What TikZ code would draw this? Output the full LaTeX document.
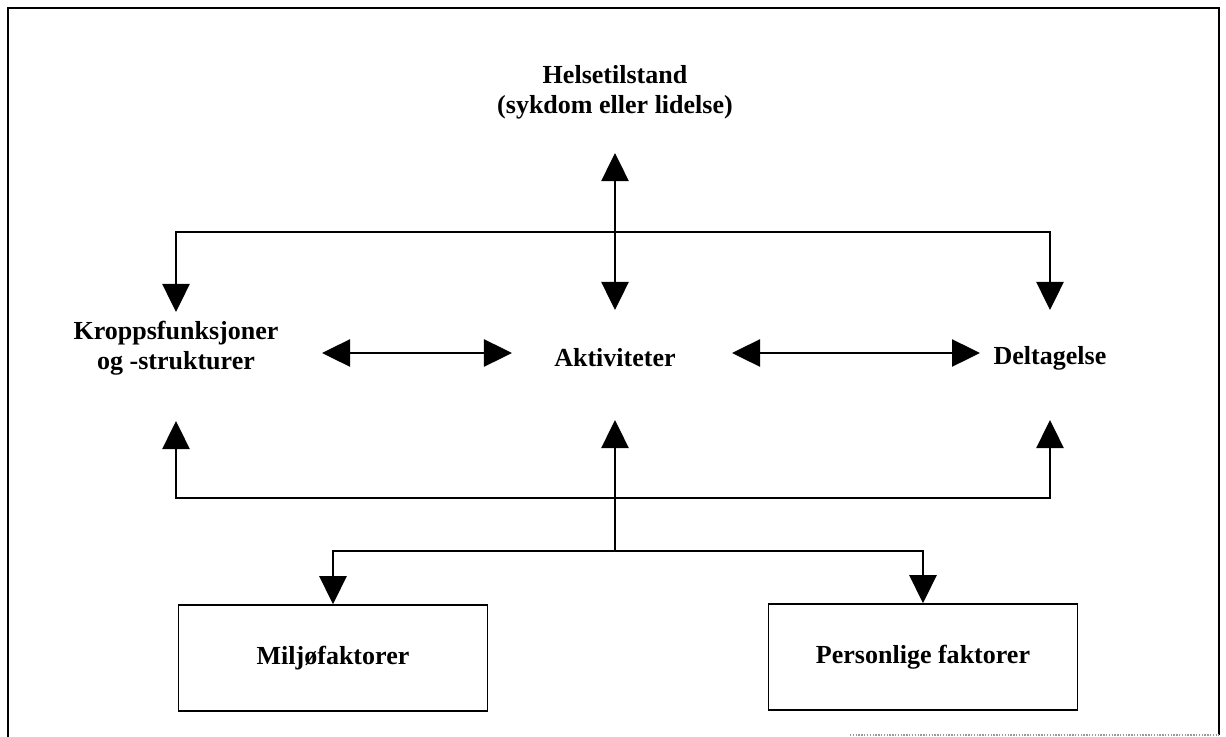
\documentclass[tikz,border=0pt]{standalone}
\usepackage{fontspec}
\setmainfont{Liberation Serif}
\usetikzlibrary{arrows.meta,calc}

\tikzset{
  lbl/.style={font=\bfseries\fontsize{18.5}{21.5}\selectfont,align=center,inner sep=1pt},
  factorbox/.style={draw,line width=1.1pt,minimum width=7.725cm,minimum height=2.65cm,
    font=\bfseries\fontsize{18.5}{21.5}\selectfont},
  link/.style={line width=1.2pt,-{Triangle[length=0.7cm,width=0.68cm]}},
  both/.style={line width=1.2pt,{Triangle[length=0.7cm,width=0.68cm]}-{Triangle[length=0.7cm,width=0.68cm]}}
}

\begin{document}
\begin{tikzpicture}[x=0.025cm,y=-0.025cm]
\useasboundingbox (0,0) rectangle (1226,737);
% outer frame
\draw[line width=1.3pt] (8,737) -- (8,8) -- (1219,8) -- (1219,735);
\draw[black!40,densely dotted,line width=1pt] (850,735) -- (1219,735);

\node[lbl] (helse) at (615,92) {Helsetilstand\\(sykdom eller lidelse)};
\node[lbl] (kropp) at (176,348) {Kroppsfunksjoner\\og -strukturer};
\node[lbl] (akt) at (615,358) {Aktiviteter};
\node[lbl] (delt) at (1050,358) {Deltagelse};
\node[factorbox] (milj) at (333,658) {Miljøfaktorer};
\node[factorbox] (pers) at (923,657) {Personlige faktorer};

\coordinate (top) at (615,232);
\coordinate (mid) at (615,498);
\coordinate (split) at (615,551);

% upper part
\draw[both] ($(helse)+(0,61)$) -- ($(akt)+(0,-48)$);
\draw[link] (top) -| ($(kropp)+(0,-36)$);
\draw[link] (top) -| ($(delt)+(0,-48)$);
\draw[both] ($(kropp)+(146,5)$) -- ($(akt)+(-103,-5)$);
\draw[both] ($(akt)+(117,-5)$) -- ($(delt)+(-70,-5)$);

% lower part
\draw[link] (split) -- ($(akt)+(0,62)$);
\draw[link] (mid) -| ($(kropp)+(0,73)$);
\draw[link] (mid) -| ($(delt)+(0,62)$);
\draw[link] (split) -| (milj.north);
\draw[link] (split) -| (pers.north);
\end{tikzpicture}
\end{document}
